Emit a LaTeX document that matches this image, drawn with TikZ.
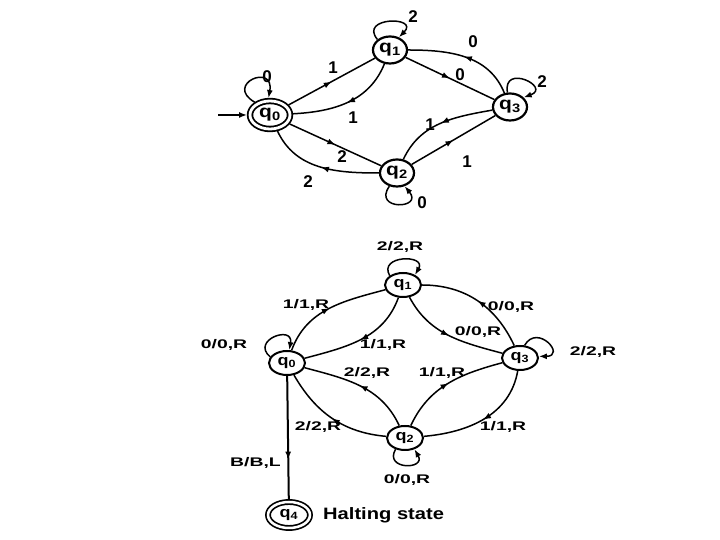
\documentclass[tikz,border=0pt]{standalone}
\usepackage{fontspec}
\usepackage{graphicx}
\setmainfont{Liberation Sans}
\usetikzlibrary{shapes.geometric,arrows.meta,decorations.markings}
\newcommand\hsT[1]{\scalebox{1.2}[1]{#1}}
\newcommand\hsB[1]{\scalebox{1.55}[1]{#1}}
\begin{document}
\begin{tikzpicture}[x=1pt,y=1pt,
  tst/.style={ellipse, draw, line width=2.2pt, inner sep=0pt, minimum width=34pt, minimum height=27pt, font=\fontsize{17.5}{17.5}\selectfont\bfseries},
  tacc/.style={ellipse, draw, line width=1.8pt, double, double distance=2.8pt, inner sep=0pt, outer sep=3pt, minimum width=40pt, minimum height=28pt, font=\fontsize{17.5}{17.5}\selectfont\bfseries},
  bst/.style={ellipse, draw, line width=2pt, inner sep=0pt, minimum width=36pt, minimum height=24pt, font=\fontsize{15}{15}\selectfont\bfseries},
  bacc/.style={ellipse, draw, line width=1.7pt, double, double distance=2.5pt, inner sep=0pt, outer sep=3pt, minimum width=42pt, minimum height=26pt, font=\fontsize{15}{15}\selectfont\bfseries},
  edg/.style={line width=1.5pt},
  midarr/.style={edg, postaction={decorate}, decoration={markings, mark=at position #1 with {\arrow{Latex[length=8pt,width=6pt]}}}},
  midarr/.default=0.5,
  endarr/.style={edg, -{Latex[length=8pt,width=6pt]}},
  tl/.style={font=\fontsize{17}{17}\selectfont\bfseries, inner sep=0pt},
  bl/.style={font=\fontsize{12.5}{12.5}\selectfont\bfseries, inner sep=0pt},
]
\useasboundingbox (0,0) rectangle (720,540);
\fill[white] (0,0) rectangle (720,540);

% ---------- top automaton ----------
\node[tacc] (A0) at (270,425) {\hsT{q\textsubscript{0}}};
\node[tst] (A1) at (390,490) {\hsT{q\textsubscript{1}}};
\node[tst] (A3) at (510,433) {\hsT{q\textsubscript{3}}};
\node[tst] (A2) at (397,367) {\hsT{q\textsubscript{2}}};
\coordinate (Ain) at (218,425);

\draw[endarr] (Ain) -- (A0);
\draw[midarr] (A0) -- (A1);
\draw[midarr] (A1) to[out=-112,in=3] (A0);
\draw[midarr] (A1) -- (A3);
\draw[midarr] (A3) to[out=112,in=0] (A1);
\draw[midarr] (A0) -- (A2);
\draw[midarr] (A2) to[out=180,in=-65] (A0);
\draw[midarr] (A2) -- (A3);
\draw[midarr] (A3) to[out=190,in=65] (A2);

\draw[endarr] (A0.140) .. controls +(150:36) and +(80:36) .. (A0.95);
\draw[endarr] (A1.140) .. controls +(130:30) and +(45:30) .. (A1.55);
\draw[endarr] (A3.100) .. controls +(100:30) and +(20:30) .. (A3.35);
\draw[endarr] (A2.240) .. controls +(235:30) and +(310:30) .. (A2.300);

\node[tl] (ta1) at (333,472) {1};
\node[tl] (ta2) at (353,422) {1};
\node[tl] (ta3) at (460,465) {0};
\node[tl] (ta4) at (473,498) {0};
\node[tl] (ta5) at (342,383) {2};
\node[tl] (ta6) at (308,358) {2};
\node[tl] (ta7) at (430,415) {1};
\node[tl] (ta8) at (467,378) {1};
\node[tl] (ta9) at (267,463) {0};
\node[tl] (ta10) at (413,523) {2};
\node[tl] (ta11) at (542,458) {2};
\node[tl] (ta12) at (422,337) {0};

% ---------- bottom Turing machine ----------
\node[bst] (B1) at (403,255) {\hsT{q\textsubscript{1}}};
\node[bst] (B0) at (287,177) {\hsT{q\textsubscript{0}}};
\node[bst] (B3) at (520,182) {\hsT{q\textsubscript{3}}};
\node[bst] (B2) at (405,102) {\hsT{q\textsubscript{2}}};
\node[bacc] (B4) at (289,25) {\hsT{q\textsubscript{4}}};
\node[anchor=west, font=\fontsize{16.5}{16.5}\selectfont\bfseries, inner sep=0pt] (halt) at (323,25) {\scalebox{1.22}[1]{Halting state}};

\draw[midarr] (B0) to[out=70,in=195] (B1);
\draw[midarr] (B1) to[out=-110,in=15] (B0);
\draw[midarr] (B1) to[out=-62,in=165] (B3);
\draw[midarr] (B3) to[out=115,in=0] (B1);
\draw[midarr] (B2) to[out=115,in=-15] (B0);
\draw[midarr] (B2) to[out=175,in=-60] (B0);
\draw[midarr] (B2) to[out=65,in=195] (B3);
\draw[midarr] (B3) to[out=-100,in=5] (B2);
\draw[midarr=0.68, line width=2pt] (B0) -- (B4);

\draw[endarr] (B1.145) .. controls +(120:24) and +(60:24) .. (B1.40);
\draw[endarr] (B0.160) .. controls +(140:26) and +(80:26) .. (B0.80);
\draw[endarr] (B3.70) .. controls +(60:26) and +(0:28) .. (B3.5);
\draw[endarr] (B2.230) .. controls +(240:24) and +(300:24) .. (B2.310);

\node[bl] (tb1) at (400,293) {\hsB{2/2,R}};
\node[bl] (tb2) at (306,235) {\hsB{1/1,R}};
\node[bl] (tb3) at (511,233) {\hsB{0/0,R}};
\node[bl] (tb4) at (224,195) {\hsB{0/0,R}};
\node[bl] (tb5) at (383,195) {\hsB{1/1,R}};
\node[bl] (tb6) at (478,208) {\hsB{0/0,R}};
\node[bl] (tb7) at (593,188) {\hsB{2/2,R}};
\node[bl] (tb8) at (367,167) {\hsB{2/2,R}};
\node[bl] (tb9) at (442,167) {\hsB{1/1,R}};
\node[bl] (tb10) at (318,113) {\hsB{2/2,R}};
\node[bl] (tb11) at (503,113) {\hsB{1/1,R}};
\node[bl] (tb12) at (407,60) {\hsB{0/0,R}};
\node[bl, anchor=east] (tb13) at (281,77) {\hsB{B/B,L}};
\end{tikzpicture}
\end{document}
